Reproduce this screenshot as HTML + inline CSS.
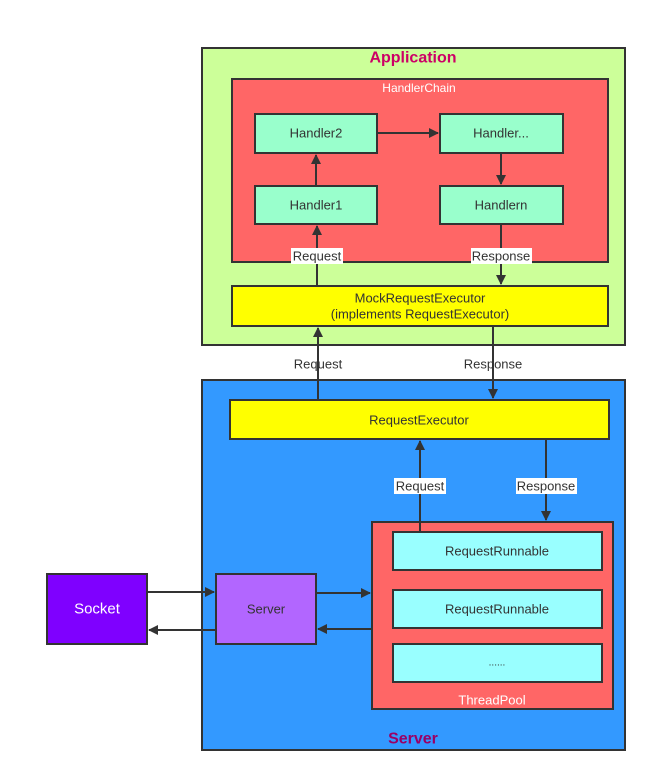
<!DOCTYPE html>
<html><head><style>body{margin:0;background:#fff}svg{display:block}text{font-family:"Liberation Sans",sans-serif;font-size:13px;fill:#333;text-anchor:middle;dominant-baseline:central}</style></head><body>
<svg width="657" height="782" viewBox="0 0 657 782" xmlns="http://www.w3.org/2000/svg">
<defs><marker id="a" markerWidth="10" markerHeight="10" refX="9" refY="5" orient="auto" markerUnits="userSpaceOnUse"><path d="M0,0 L10,5 L0,10 z" fill="#333"/></marker></defs>
<g stroke="#333" stroke-width="2">
<rect x="202" y="48" width="423" height="297" fill="#CCFF99"/>
<rect x="232" y="79" width="376" height="183" fill="#FF6666"/>
<rect x="255" y="114" width="122" height="39" fill="#99FFCC"/>
<rect x="440" y="114" width="123" height="39" fill="#99FFCC"/>
<rect x="255" y="186" width="122" height="38" fill="#99FFCC"/>
<rect x="440" y="186" width="123" height="38" fill="#99FFCC"/>
<rect x="232" y="286" width="376" height="40" fill="#FFFF00"/>
<rect x="202" y="380" width="423" height="370" fill="#3399FF"/>
<rect x="230" y="400" width="379" height="39" fill="#FFFF00"/>
<rect x="372" y="522" width="241" height="187" fill="#FF6666"/>
<rect x="393" y="532" width="209" height="38" fill="#99FFFF"/>
<rect x="393" y="590" width="209" height="38" fill="#99FFFF"/>
<rect x="393" y="644" width="209" height="38" fill="#99FFFF"/>
<rect x="47" y="574" width="100" height="70" fill="#7F00FF"/>
<rect x="216" y="574" width="100" height="70" fill="#B266FF"/>
</g>
<g stroke="#333" stroke-width="2" fill="none" marker-end="url(#a)">
<line x1="316" y1="186" x2="316" y2="155"/>
<line x1="377" y1="133" x2="438" y2="133"/>
<line x1="501" y1="153" x2="501" y2="184"/>
<line x1="317" y1="286" x2="317" y2="226"/>
<line x1="501" y1="224" x2="501" y2="284"/>
<line x1="318" y1="400" x2="318" y2="328"/>
<line x1="493" y1="326" x2="493" y2="398"/>
<line x1="420" y1="532" x2="420" y2="441"/>
<line x1="546" y1="439" x2="546" y2="520"/>
<line x1="147" y1="592" x2="214" y2="592"/>
<line x1="216" y1="630" x2="149" y2="630"/>
<line x1="316" y1="593" x2="370" y2="593"/>
<line x1="372" y1="629" x2="318" y2="629"/>
</g>
<text x="413" y="58" style="font-weight:bold;font-size:16px;fill:#CC0066">Application</text>
<text x="419" y="88" style="fill:#fff;font-size:12px">HandlerChain</text>
<text x="316" y="133">Handler2</text>
<text x="501" y="133">Handler...</text>
<text x="316" y="205">Handler1</text>
<text x="501" y="205">Handlern</text>
<rect x="291" y="248" width="52" height="16" fill="#fff"/>
<text x="317" y="256">Request</text>
<rect x="471" y="248" width="61" height="16" fill="#fff"/>
<text x="501" y="256">Response</text>
<text x="420" y="298">MockRequestExecutor</text>
<text x="420" y="314">(implements RequestExecutor)</text>
<text x="318" y="364">Request</text>
<text x="493" y="364">Response</text>
<text x="419" y="420">RequestExecutor</text>
<rect x="394" y="478" width="52" height="16" fill="#fff"/>
<text x="420" y="486">Request</text>
<rect x="516" y="478" width="61" height="16" fill="#fff"/>
<text x="546" y="486">Response</text>
<text x="497" y="551">RequestRunnable</text>
<text x="497" y="609">RequestRunnable</text>
<text x="497" y="663" style="font-size:10px">......</text>
<text x="492" y="700" style="fill:#fff;font-size:13px">ThreadPool</text>
<text x="97" y="609" style="fill:#fff;font-size:15px">Socket</text>
<text x="266" y="609">Server</text>
<text x="413" y="739" style="font-weight:bold;font-size:16px;fill:#990066">Server</text>
</svg>
</body></html>
